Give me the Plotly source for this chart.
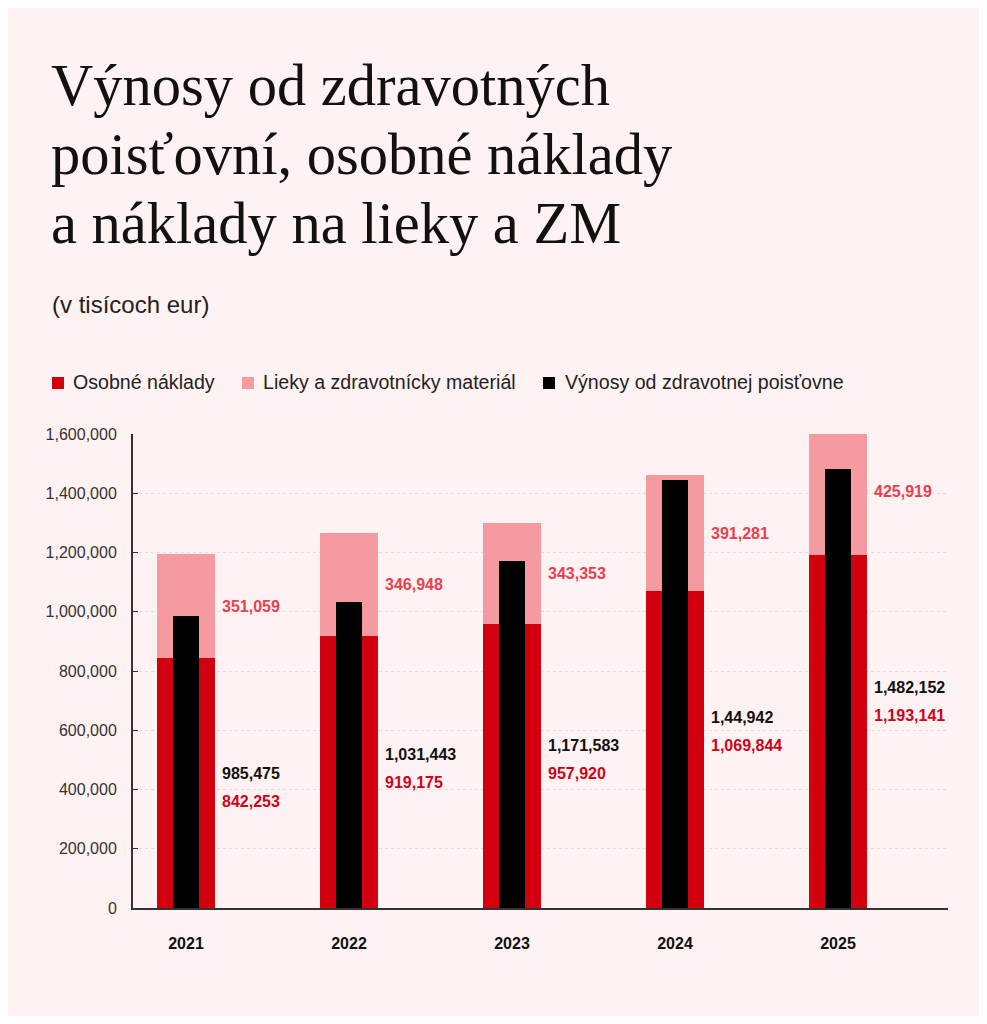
import plotly.graph_objects as go

# Dáta (v tisícoch eur)
roky = ['2021', '2022', '2023', '2024', '2025']
osobne_naklady = [842253, 919175, 957920, 1069844, 1193141]
lieky_zm = [351059, 346948, 343353, 391281, 425919]
vynosy_zp = [985475, 1031443, 1171583, 1444942, 1482152]
# popisky tak, ako sú v origináli
vynosy_text = ['985,475', '1,031,443', '1,171,583', '1,44,942', '1,482,152']

y_ticks = [0, 200000, 400000, 600000, 800000, 1000000, 1200000, 1400000, 1600000]

CERVENA = '#d2000f'
RUZOVA = '#f59a9f'
CIERNA = '#000000'
POZADIE = '#fff2f2'
SANS = 'Liberation Sans, Arial, sans-serif'
SERIF = 'Liberation Serif, Times New Roman, serif'

# rozmery (stránka má 8px okraj body)
W, H = 971, 1008
ML, MR, MT, MB = 125, 31, 426, 108
PW, PH = W - ML - MR, H - MT - MB


def px(x_strana):
    return (x_strana - 8 - ML) / PW


def py(y_strana):
    return (H - MB - (y_strana - 8)) / PH


x = list(range(len(roky)))
sirka = 0.356

fig = go.Figure()

fig.add_trace(go.Bar(
    x=x, y=osobne_naklady, width=sirka,
    name='Osobné náklady', marker_color=CERVENA, marker_line_width=0
))
fig.add_trace(go.Bar(
    x=x, y=lieky_zm, base=osobne_naklady, width=sirka,
    name='Lieky a zdravotnícky materiál', marker_color=RUZOVA, marker_line_width=0
))
fig.add_trace(go.Bar(
    x=x, y=vynosy_zp, width=0.16,
    name='Výnosy od zdravotnej poisťovne', marker_color=CIERNA, marker_line_width=0
))

# Popisky hodnôt vpravo od stĺpcov
for i in x:
    lx = i + sirka / 2 + 0.033
    fig.add_annotation(
        x=lx, y=osobne_naklady[i] + lieky_zm[i] / 2,
        text=f'{lieky_zm[i]:,}', showarrow=False, xanchor='left',
        font=dict(family=SANS, size=16, color='#e8404f', weight='bold')
    )
    # dvojica popiskov (výnosy + osobné náklady) v dolnej časti
    stred = osobne_naklady[i] * 0.835 - 298000
    fig.add_annotation(
        x=lx, y=stred, yshift=-14,
        text=f'{osobne_naklady[i]:,}', showarrow=False, xanchor='left',
        font=dict(family=SANS, size=16, color='#d0021b', weight='bold')
    )
    fig.add_annotation(
        x=lx, y=stred, yshift=14,
        text=vynosy_text[i], showarrow=False, xanchor='left',
        font=dict(family=SANS, size=16, color='#111111', weight='bold')
    )

# Nadpis a podnadpis
nadpis = ['Výnosy od zdravotných', 'poisťovní, osobné náklady', 'a náklady na lieky a ZM']
for k, riadok in enumerate(nadpis):
    fig.add_annotation(
        xref='paper', yref='paper', x=px(49), xanchor='left',
        y=py(85 + 69 * k), yanchor='middle',
        text=riadok, showarrow=False,
        font=dict(family=SERIF, size=58.5, color='#111111')
    )
fig.add_annotation(
    xref='paper', yref='paper', x=px(50), xanchor='left',
    y=py(304), yanchor='middle',
    text='(v tisícoch eur)', showarrow=False,
    font=dict(family=SANS, size=24, color='#222222')
)

# Legenda (ručne)
legenda = [
    ('Osobné náklady', CERVENA, 52, 73),
    ('Lieky a zdravotnícky materiál', RUZOVA, 242, 263),
    ('Výnosy od zdravotnej poisťovne', CIERNA, 543, 565),
]
for nazov, farba, mx, tx in legenda:
    fig.add_shape(
        type='rect', xref='paper', yref='paper',
        x0=px(mx), x1=px(mx + 12), y0=py(389), y1=py(377),
        fillcolor=farba, line_width=0
    )
    fig.add_annotation(
        xref='paper', yref='paper', x=px(tx - 2), xanchor='left',
        y=py(382), yanchor='middle',
        text=nazov, showarrow=False,
        font=dict(family=SANS, size=19.6, color='#222222')
    )

fig.update_layout(
    width=W, height=H,
    margin=dict(l=ML, r=MR, t=MT, b=MB),
    paper_bgcolor=POZADIE, plot_bgcolor=POZADIE,
    barmode='overlay',
    bargap=0,
    showlegend=False,
    xaxis=dict(
        range=[-0.325, 4.675],
        tickvals=x, ticktext=roky,
        tickfont=dict(family=SANS, size=16, color='#111111', weight='bold'),
        showgrid=False, zeroline=False,
        showline=True, linecolor='#333333', linewidth=2,
        ticks='', ticklabelstandoff=20
    ),
    yaxis=dict(
        range=[0, 1600000],
        tickvals=y_ticks, tickformat=',',
        tickfont=dict(family=SANS, size=16, color='#333333'),
        showgrid=True, gridcolor='#dddddd', griddash='dot', gridwidth=1,
        zeroline=False,
        showline=True, linecolor='#333333', linewidth=2,
        ticks='inside', ticklen=5, tickcolor='#333333',
        ticklabelstandoff=11
    ),
    font=dict(family=SANS)
)

fig.write_html('out.html')
